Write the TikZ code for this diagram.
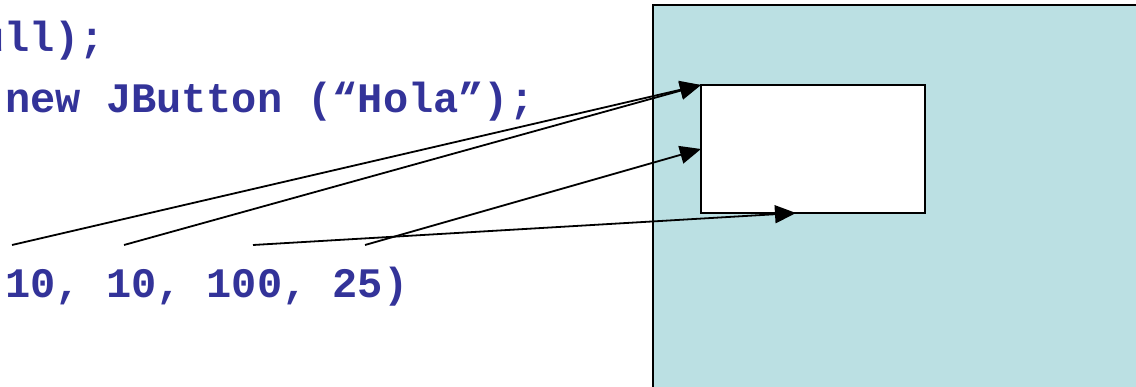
\documentclass[tikz,border=0pt]{standalone}
\usepackage{fontspec}
\setmonofont{Liberation Mono}
\usetikzlibrary{arrows.meta,calc}
\definecolor{codeblue}{RGB}{51,51,153}
\definecolor{panelfill}{RGB}{187,224,227}
\tikzset{
  code/.style={anchor=base west, inner sep=0pt, text=codeblue,
    font=\ttfamily\bfseries\fontsize{42}{42}\selectfont},
  panel/.style={draw=black, line width=2pt, fill=panelfill, inner sep=0pt, outer sep=0pt, anchor=north west},
  btnbox/.style={draw=black, line width=2pt, fill=white, inner sep=0pt, outer sep=0pt},
  link/.style={line width=1.8pt, -{Triangle[length=21pt,width=18pt]}}
}
\begin{document}
\begin{tikzpicture}[x=1pt,y=-1pt]
\useasboundingbox (0,0) rectangle (1136,387);
\clip (0,0) rectangle (1136,387);
\fill[white] (0,0) rectangle (1136,387);
% panel
\node[panel, minimum width=500pt, minimum height=400pt] (panel) at (653,5) {};
\node[btnbox, minimum width=224pt, minimum height=128pt] (btn) at (813,149) {};
% code text
\node[code] (l1) at (-21,52) {ull);};
\node[code] (l2) at (5,113) {new JButton (“Hola”);};
\node[code] (l3) at (5,298) {10, 10, 100, 25)};
% connector tails
\coordinate (s1) at (12,245);
\coordinate (s2) at (124,245);
\coordinate (s3) at (253,245);
\coordinate (s4) at (365,245);
\coordinate (bt) at ($(btn.south west)!0.424!(btn.south east)$);
\draw[link] (s1) -- (btn.north west);
\draw[link] (s2) -- (btn.north west);
\draw[link] (s3) -- (bt);
\draw[link] (s4) -- (btn.west);
\end{tikzpicture}
\end{document}
